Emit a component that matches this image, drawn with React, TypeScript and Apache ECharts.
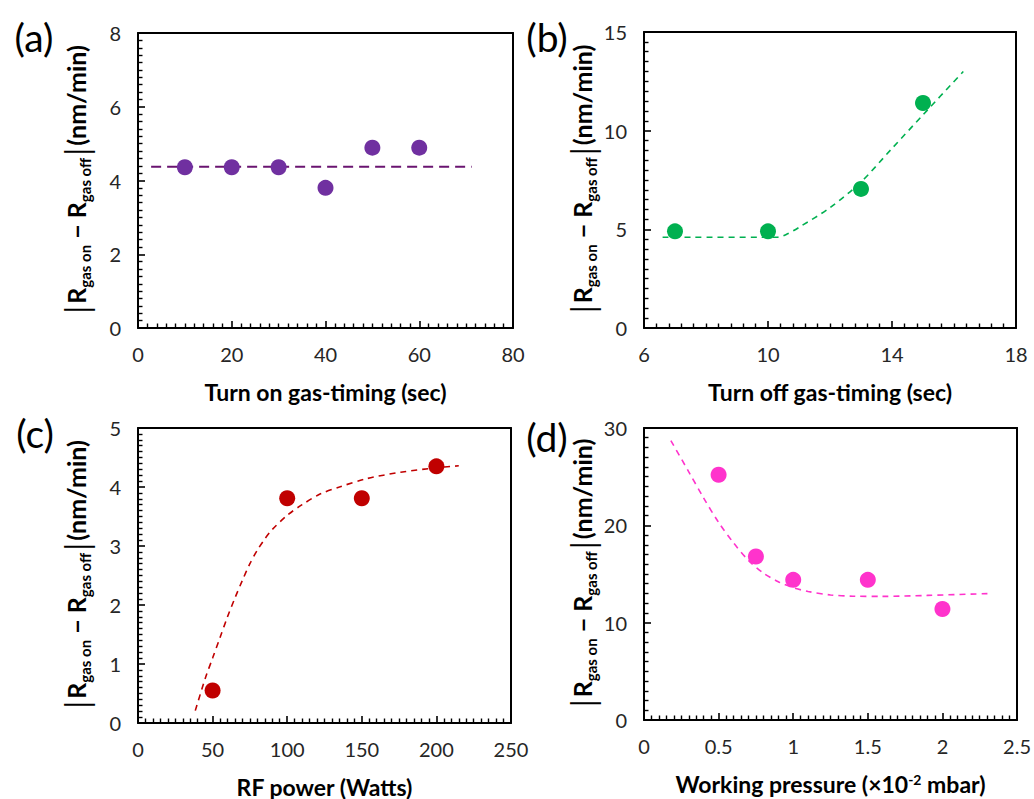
import React, { useEffect, useRef } from "react";
import * as echarts from "echarts";

const FONT = "Lato";

// Panel (a)
const aX = [10, 20, 30, 40, 50, 60];
const aY = [4.36, 4.36, 4.36, 3.8, 4.89, 4.89];
const aFitX = [2.8, 71.2];
const aFitY = [4.37, 4.37];

// Panel (b)
const bX = [7, 10, 13, 15];
const bY = [4.9, 4.9, 7.05, 11.4];
const bFitX = [6.6, 10.3, 10.6, 11, 12, 13, 14, 15, 16.3];
const bFitY = [4.6, 4.6, 4.75, 5.1, 6.1, 7.4, 9.1, 10.8, 13.0];

// Panel (c)
const cX = [50, 100, 150, 200];
const cY = [0.55, 3.81, 3.81, 4.35];
const cFitX = [38.4, 45, 50, 55, 60, 65, 70, 75, 80, 85, 90, 100, 110, 122, 135, 153, 176, 198, 215];
const cFitY = [0.21, 0.75, 1.1, 1.45, 1.8, 2.12, 2.42, 2.7, 2.93, 3.12, 3.28, 3.52, 3.7, 3.88, 4.0, 4.14, 4.25, 4.32, 4.36];

// Panel (d)
const dX = [0.5, 0.75, 1, 1.5, 2];
const dY = [25.2, 16.8, 14.4, 14.4, 11.4];
const dFitX = [0.18, 0.3, 0.4, 0.5, 0.6, 0.7, 0.8, 0.9, 1.0, 1.1, 1.25, 1.4, 1.6, 1.9, 2.33];
const dFitY = [28.7, 25.5, 22.8, 20.3, 18.2, 16.4, 15.1, 14.2, 13.6, 13.2, 12.85, 12.72, 12.7, 12.8, 13.0];

const xNames = [
  "Turn on gas-timing (sec)",
  "Turn off gas-timing (sec)",
  "RF power (Watts)",
  "{b|Working pressure (×10}{sup|-2}{b| mbar)}",
];
const yName = "{bar||}{b|R}{s|gas on}{b| − R}{s|gas off}{bar||}{b|(nm/min)}";
const panelLabels = ["(a)", "(b)", "(c)", "(d)"];

const zip = (xs: number[], ys: number[]) => xs.map((x, i) => [x, ys[i]]);

const grids = [
  { left: 138, top: 33, width: 375, height: 295 },
  { left: 644, top: 32, width: 372, height: 296 },
  { left: 138, top: 428, width: 373, height: 295 },
  { left: 644, top: 428, width: 374, height: 292 },
];

const xRanges = [
  [0, 80, 20],
  [6, 18, 4],
  [0, 250, 50],
  [0, 2.5, 0.5],
];
const yRanges = [
  [0, 8, 2],
  [0, 15, 5],
  [0, 5, 1],
  [0, 30, 10],
];

function tickedAxis(i: number, r: number[]) {
  return {
    type: "value",
    gridIndex: i,
    min: r[0],
    max: r[1],
    interval: r[2],
    z: 5,
    axisLine: { show: true, onZero: false, lineStyle: { color: "#000", width: 2 } },
    axisTick: { show: true, inside: true, length: 7, lineStyle: { color: "#000", width: 1.6 } },
    minorTick: { show: true, splitNumber: 10, length: 4.5, lineStyle: { color: "#000", width: 1.4 } },
    splitLine: { show: false },
  };
}

function frameAxis(i: number, r: number[], position: string) {
  return {
    type: "value",
    gridIndex: i,
    position,
    min: r[0],
    max: r[1],
    interval: r[2],
    axisLine: { show: true, onZero: false, lineStyle: { color: "#000", width: 2 } },
    axisTick: { show: false },
    minorTick: { show: false },
    axisLabel: { show: false },
    splitLine: { show: false },
  };
}

export default function App() {
  const ref = useRef<HTMLDivElement>(null);
  useEffect(() => {
    if (!ref.current) return;
    const chart = echarts.init(ref.current, undefined, { renderer: "svg" });
    const xAxes: any[] = xRanges.map((r, i) => ({
      ...tickedAxis(i, r),
      position: "bottom",
      name: xNames[i],
      nameLocation: "middle",
      nameGap: 52,
      nameTextStyle: {
        fontFamily: FONT,
        fontWeight: "bold",
        fontSize: 23,
        color: "#000",
        rich: {
          b: { fontFamily: FONT, fontWeight: "bold", fontSize: 23, color: "#000" },
          sup: { fontFamily: FONT, fontWeight: "bold", fontSize: 14, color: "#000", verticalAlign: "top" },
        },
      },
      axisLabel: { fontFamily: FONT, fontSize: 20, color: "#262626", margin: 16 },
    }));
    const yAxes: any[] = yRanges.map((r, i) => ({
      ...tickedAxis(i, r),
      position: "left",
      name: yName,
      nameLocation: "middle",
      nameRotate: 90,
      nameGap: 46,
      nameTextStyle: {
        rich: {
          b: { fontFamily: FONT, fontWeight: "bold", fontSize: 25, lineHeight: 32, color: "#000" },
          s: { fontFamily: FONT, fontWeight: "bold", fontSize: 15, lineHeight: 32, verticalAlign: "bottom", color: "#000" },
          bar: { fontFamily: FONT, fontSize: 32, lineHeight: 32, color: "#000", padding: [0, 2, 0, 2] },
        },
      },
      axisLabel: { fontFamily: FONT, fontSize: 20, color: "#262626", margin: 17 },
    }));
    // frame: top and right edges of each plot box
    xRanges.forEach((r, i) => xAxes.push(frameAxis(i, r, "top")));
    yRanges.forEach((r, i) => yAxes.push(frameAxis(i, r, "right")));

    const pts = [zip(aX, aY), zip(bX, bY), zip(cX, cY), zip(dX, dY)];
    const fits = [zip(aFitX, aFitY), zip(bFitX, bFitY), zip(cFitX, cFitY), zip(dFitX, dFitY)];
    const markerColors = ["#7030A0", "#00B050", "#C00000", "#FF33CC"];
    const lineColors = ["#6A1470", "#00B050", "#C00000", "#FF33CC"];

    const series: any[] = [];
    for (let i = 0; i < 4; i++) {
      series.push({
        type: "line",
        xAxisIndex: i,
        yAxisIndex: i,
        data: fits[i],
        smooth: i === 0 ? false : 0.3,
        showSymbol: false,
        lineStyle: {
          color: lineColors[i],
          width: i === 0 ? 2 : 1.6,
          type: i === 0 ? [10, 6] : [6, 5],
        },
        z: 2,
      });
      series.push({
        type: "scatter",
        xAxisIndex: i,
        yAxisIndex: i,
        data: pts[i],
        symbolSize: 16,
        itemStyle: { color: markerColors[i], opacity: 1 },
        z: 3,
      });
    }

    const labelPos = [
      [34, 37],
      [547, 37],
      [35, 433],
      [547, 437],
    ];

    chart.setOption({
      animation: false,
      grid: grids.map((g) => ({ ...g, show: false })),
      xAxis: xAxes,
      yAxis: yAxes,
      series,
      graphic: panelLabels.map((t, i) => ({
        type: "text",
        x: labelPos[i][0],
        y: labelPos[i][1],
        style: {
          text: t,
          fontFamily: FONT,
          fontSize: 39,
          fill: "#000",
          textAlign: "center",
          textVerticalAlign: "middle",
        },
      })),
    });
    return () => chart.dispose();
  }, []);
  return (
    <div
      ref={ref}
      style={{ position: "fixed", left: 0, top: 0, width: 1034, height: 799, background: "#fff" }}
    />
  );
}
